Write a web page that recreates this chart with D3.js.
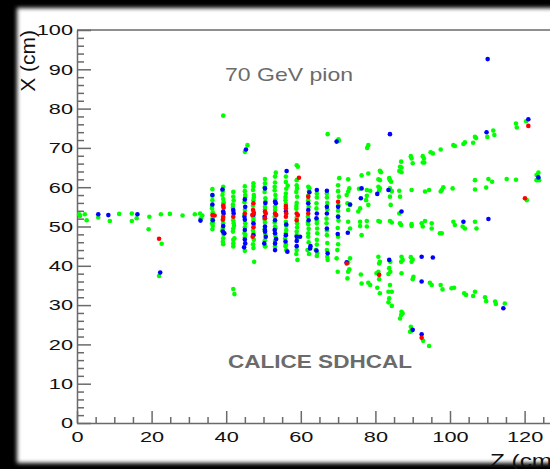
<!DOCTYPE html>
<html>
<head>
<meta charset="utf-8">
<script src="https://cdn.jsdelivr.net/npm/d3@7"></script>
<style>
  html, body { margin: 0; padding: 0; background: #000; }
  svg { display: block; }
  text { font-family: "Liberation Sans", Arial, Helvetica, sans-serif; }
</style>
</head>
<body>
<div id="chart"></div>
<script>
// hits as [Z (cm), X (cm)], one array per threshold colour
const greenHits = [
  [0.6,53.1],[0.8,52.7],[2.1,53.1],[2.6,51.6],[5.7,52.3],[8.8,51.4],[11.3,53.2],[14.7,53.3],[14.7,51.4],
  [16.0,52.1],[19.4,52.5],[19.2,49.3],[22.7,45.6],[22.0,37.4],[22.5,53.1],[24.9,53.2],[28.3,52.8],
  [31.6,53.1],[33.6,52.8],[33.2,52.1],[33.0,53.3],
  [36.3,59.5],[36.3,56.7],[36.2,54.6],[36.4,53.6],[36.3,52.0],[36.2,50.8],[36.4,50.2],
  [36.3,57.8],[36.2,55.2],[36.4,51.0],[36.3,49.3],
  [39.2,60.1],[39.0,58.0],[39.2,57.0],[39.3,56.2],[39.2,52.0],[39.1,49.6],[39.3,48.0],[39.2,47.0],[39.1,46.1],[39.2,78.2],
  [39.1,59.0],[39.3,55.8],[39.2,50.8],[39.0,49.0],[39.2,45.5],
  [41.9,57.6],[41.8,55.6],[41.9,51.6],[42.0,50.8],[41.9,49.5],[41.8,48.7],[42.2,47.0],[41.9,45.7],[41.9,46.6],[41.9,34.1],[42.2,32.8],
  [41.9,58.8],[42.0,56.6],[41.8,54.8],[41.9,53.8],[42.1,50.2],[41.9,44.9],
  [45.0,59.0],[45.1,58.0],[44.9,56.2],[45.0,54.2],[45.1,50.8],[44.9,48.3],[45.0,47.2],[45.7,70.7],[45.0,69.0],
  [45.0,60.2],[45.1,57.4],[44.9,53.0],[45.0,49.8],[45.1,47.9],[45.0,43.8],
  [47.3,61.0],[47.2,59.3],[47.4,58.0],[47.3,56.7],[47.3,51.6],[47.2,49.0],[47.4,46.6],[47.3,44.5],[47.5,41.0],
  [47.3,60.2],[47.4,57.4],[47.2,55.3],[47.3,52.2],[47.4,50.4],[47.3,48.2],[47.2,45.5],
  [50.4,61.0],[50.3,58.8],[50.5,57.2],[50.4,55.0],[50.4,51.0],[50.3,49.3],[50.4,46.5],[50.5,44.9],
  [50.4,62.1],[50.3,60.0],[50.5,56.3],[50.4,54.3],[50.3,51.8],[50.5,48.1],[50.4,45.0],
  [53.1,62.7],[53.3,63.7],[53.0,60.1],[53.2,58.0],[53.1,55.0],[53.0,52.5],[53.1,50.0],[53.2,47.6],[53.1,45.0],
  [53.1,61.2],[53.0,59.2],[53.2,56.9],[53.1,54.2],[53.0,51.0],[53.2,49.5],[53.1,46.4],
  [56.0,62.7],[56.5,60.4],[56.0,58.4],[55.9,56.7],[56.0,51.2],[56.1,49.1],[55.8,47.0],[56.0,45.5],[56.1,44.0],
  [56.0,61.3],[56.1,59.6],[55.9,57.5],[56.0,55.8],[56.1,50.2],[56.0,48.3],[55.9,45.0],
  [58.9,65.6],[59.2,65.2],[58.9,61.8],[58.8,58.8],[59.0,57.6],[58.9,56.0],[58.8,54.5],[59.0,50.8],[58.9,48.7],
  [59.0,46.6],[58.9,44.0],[58.8,43.0],[59.1,41.5],
  [58.9,60.5],[59.0,59.7],[58.8,55.2],[58.9,52.2],[59.0,49.8],[58.9,47.8],
  [62.0,60.1],[62.3,59.7],[62.2,58.9],[62.0,56.7],[61.9,52.5],[62.0,50.5],[62.1,49.4],[62.0,47.4],[61.8,44.0],[62.2,43.0],
  [62.0,57.8],[62.1,55.0],[61.9,51.0],[62.0,48.3],[62.1,46.0],
  [64.3,58.4],[64.2,55.9],[64.3,50.8],[64.4,49.5],[64.3,46.6],[64.0,44.0],[64.4,43.3],[64.3,42.5],
  [64.3,57.4],[64.2,54.6],[64.3,51.6],[64.4,48.3],[64.3,45.4],
  [67.0,58.4],[67.1,56.0],[66.9,52.0],[67.0,49.0],[67.0,44.0],[67.1,42.3],[67.2,41.5],[67.2,73.5],
  [67.0,57.4],[67.1,54.4],[66.9,50.8],[67.0,47.8],[67.1,45.8],
  [70.3,62.3],[70.0,59.0],[70.2,57.6],[70.0,54.0],[70.1,51.5],[70.0,47.4],[69.8,44.0],[69.6,41.9],[69.9,38.5],[70.1,72.2],[70.2,71.8],
  [70.0,60.5],[70.1,55.4],[70.0,52.6],[69.9,49.6],[70.0,45.5],
  [72.7,62.0],[78.1,70.7],[77.8,70.0],
  [111.6,74.4],[111.9,73.3],[110.0,72.8],[106.7,72.8],[107.0,72.5],[104.0,71.4],[103.6,71.0],[106.2,71.3],[100.9,70.7],[101.3,70.5],
  [97.5,69.6],[94.8,68.9],[95.4,68.6],[92.7,67.9],[93.0,67.3],[92.7,66.3],[93.1,66.3],[89.5,67.9],[89.7,67.3],[90.0,66.1],
  [86.9,66.5],[86.6,65.2],[87.0,65.0],[86.4,64.1],[87.0,63.8],[81.2,64.2],[81.5,63.8],[78.1,63.5],[76.3,63.0],
  [80.8,62.0],[81.2,61.8],[83.7,62.3],[83.9,61.8],[84.2,61.4],
  [75.6,59.6],[77.7,59.3],[78.6,59.1],[77.7,57.8],[77.5,56.7],[78.1,55.5],[75.9,54.6],[75.4,53.8],
  [80.8,60.1],[81.2,59.7],[81.0,59.1],[83.9,59.7],[84.4,59.0],[86.4,59.1],[86.6,57.6],[83.9,57.6],[84.1,55.5],[86.4,53.3],
  [89.7,59.3],[93.3,58.9],[94.4,59.3],[97.8,59.3],[98.2,60.0],[97.5,58.9],[100.7,59.7],[106.7,59.4],[109.7,59.9],
  [106.7,61.8],[110.3,62.1],[111.3,61.4],[115.2,62.1],[117.7,61.9],[123.7,63.7],[123.2,63.1],[123.2,61.8],[123.9,61.8],[120.6,56.7],
  [72.7,51.2],[73.2,49.5],[75.9,51.2],[77.7,51.4],[77.7,50.0],[80.8,51.4],[81.2,51.2],[83.9,51.4],[84.4,51.0],[86.6,50.8],
  [86.9,50.4],[89.7,50.6],[89.7,50.1],[92.4,50.8],[92.7,50.0],[93.3,51.4],[95.1,50.8],[95.1,49.5],[97.3,48.3],[97.8,48.3],
  [100.9,51.2],[101.3,50.4],[103.4,50.0],[104.0,49.5],[106.7,51.2],[107.1,49.5],
  [72.7,54.2],[72.5,55.9],[73.2,55.5],[72.7,58.9],[73.0,59.7],[72.3,58.0],[75.9,50.1],[76.3,47.8],
  [72.7,40.8],[73.2,41.9],[73.0,39.1],[72.7,38.5],[72.5,36.8],[76.1,37.8],[76.3,35.5],[78.1,35.7],[78.6,35.1],
  [80.8,42.3],[81.2,41.0],[81.0,40.6],[80.8,38.5],[80.3,38.1],[81.0,36.6],[80.5,34.4],[81.2,33.0],
  [84.0,41.0],[83.7,39.4],[84.0,38.5],[83.5,37.9],[83.9,35.1],[83.5,33.4],[84.4,33.4],[83.7,31.7],[83.5,30.7],[84.4,29.8],
  [87.0,42.3],[87.3,41.5],[86.9,41.0],[87.0,38.1],[87.0,28.3],[86.9,27.5],[86.6,26.6],[87.3,27.9],
  [89.5,42.2],[90.0,41.6],[89.7,41.0],[90.2,37.2],[90.0,36.6],[89.5,24.5],[89.7,23.5],[89.3,23.2],
  [92.8,20.9],[94.4,19.6],
  [94.6,35.7],[95.1,35.1],[97.5,35.1],[98.0,34.0],[100.4,34.3],[101.1,34.4],[103.8,33.0],[104.3,32.6],[106.7,33.4],
  [106.2,32.3],[109.4,32.0],[109.7,31.0],[112.1,30.9],[112.3,30.3],[114.7,30.4],
  [117.7,76.2],[117.9,75.2],[120.4,76.8]
];

const blueHits = [
  [5.7,53.1],[8.4,52.9],[16.2,53.1],[22.3,38.3],[33.1,51.5],
  [36.3,58.0],[36.3,55.6],[36.4,51.6],
  [39.0,59.4],[39.2,53.8],[39.3,53.3],[39.2,50.1],[39.1,48.7],[39.5,48.3],
  [41.9,54.2],[42.0,53.3],
  [45.0,56.9],[45.1,55.0],[44.9,52.5],[45.0,51.7],[45.0,49.1],[45.0,46.7],[45.1,45.7],[44.8,44.7],[45.3,69.6],
  [47.3,53.0],[47.3,50.8],[47.3,47.8],
  [50.4,59.7],[50.5,56.0],[50.3,52.5],[50.4,50.0],[50.4,49.1],[50.4,48.7],[50.6,47.4],[50.2,45.7],
  [53.1,56.3],[53.3,55.9],[53.1,51.6],[53.0,49.1],[53.1,48.3],[53.4,46.8],[53.1,45.7],[53.1,44.0],
  [56.2,64.1],[56.0,53.8],[56.1,50.5],[56.0,47.8],[55.9,46.2],[56.4,43.6],
  [58.9,47.4],[59.8,47.4],[58.9,46.3],[58.9,45.0],
  [62.0,55.9],[62.0,54.2],[62.1,51.6],[62.5,44.4],[62.6,45.0],[62.3,58.7],
  [64.3,59.3],[64.3,53.3],[64.2,52.1],[64.2,43.9],
  [67.0,59.1],[67.0,55.0],[67.0,53.3],[67.0,49.5],[67.2,43.2],
  [70.0,55.0],[70.0,52.5],[69.9,48.1],[69.6,71.6],
  [72.6,48.4],[73.2,55.6],[76.3,59.7],[76.1,57.2],[80.5,58.3],[83.5,59.3],[83.9,73.5],[87.0,53.8],
  [110.3,51.9],[103.6,51.2],[123.7,62.5],[72.3,40.9],[83.7,41.5],[90.0,23.7],[92.4,22.6],
  [92.4,42.3],[95.4,42.1],[92.4,36.0],[114.3,29.2],[121.0,77.3],[110.1,92.6],[109.8,74.0]
];

const redHits = [
  [22.0,46.9],[36.3,52.9],[36.9,52.8],[39.2,55.3],[39.3,54.8],[39.2,52.5],[39.1,51.7],[41.9,52.5],[45.0,53.3],
  [47.3,55.9],[47.2,54.2],[47.4,53.5],[47.0,52.9],[47.3,49.8],[47.1,47.4],[50.4,53.8],[50.6,53.3],[50.4,52.1],
  [53.1,53.3],[53.4,52.9],[56.0,55.2],[56.0,54.6],[56.1,53.3],[56.0,52.5],[59.5,62.4],[58.9,53.3],[59.2,52.9],
  [58.9,51.6],[62.0,57.6],[62.0,53.3],[70.0,56.3],[72.3,40.6],[81.0,37.7],[92.4,21.7],[120.1,57.2],[121.0,75.6]
];

const yMajorTicks = d3.range(0, 101, 10);
const yMinorTicks = d3.range(0, 101, 2).filter(v => v % 10 !== 0);
const xMajorTicks = d3.range(0, 131, 20);
const xMinorTicks = d3.range(0, 131, 5).filter(v => v % 20 !== 0);

const W = 550, H = 469;
const svg = d3.select("#chart").append("svg")
    .attr("width", W)
    .attr("height", H);

// black surround with soft-edged white pad
const defs = svg.append("defs");
defs.append("filter").attr("id", "soft")
    .attr("x", "-5%").attr("y", "-5%").attr("width", "110%").attr("height", "110%")
  .append("feGaussianBlur").attr("stdDeviation", 2.2);
svg.append("rect").attr("width", W).attr("height", H).attr("fill", "#000");
svg.append("rect")
    .attr("x", 17).attr("y", 8).attr("width", 580).attr("height", 455)
    .attr("fill", "#fff").attr("filter", "url(#soft)");

const x = d3.scaleLinear().domain([0, 130]).range([77, 77 + 130 * 3.73]);
const y = d3.scaleLinear().domain([0, 100]).range([423, 30]);

const axisColor = "#6a6a6a";

// frame top line
svg.append("line")
    .attr("x1", x(0)).attr("x2", x(130))
    .attr("y1", y(100)).attr("y2", y(100))
    .attr("stroke", axisColor).attr("stroke-width", 1.5);

// minor ticks
svg.append("g")
    .attr("transform", `translate(${x(0)},0)`)
    .call(d3.axisLeft(y).tickValues(yMinorTicks).tickSize(-7).tickSizeOuter(0).tickFormat(""))
    .call(g => g.select(".domain").remove())
    .selectAll("line").attr("stroke", axisColor).attr("stroke-width", 1.5);
svg.append("g")
    .attr("transform", `translate(0,${y(0)})`)
    .call(d3.axisBottom(x).tickValues(xMinorTicks).tickSize(-6).tickSizeOuter(0).tickFormat(""))
    .call(g => g.select(".domain").remove())
    .selectAll("line").attr("stroke", axisColor).attr("stroke-width", 1.5);

// major axes
const yAxisG = svg.append("g")
    .attr("transform", `translate(${x(0)},0)`)
    .call(d3.axisLeft(y).tickValues(yMajorTicks).tickSize(-14).tickSizeOuter(0).tickPadding(4).tickFormat(d3.format("d")));
const xAxisG = svg.append("g")
    .attr("transform", `translate(0,${y(0)})`)
    .call(d3.axisBottom(x).tickValues(xMajorTicks).tickSize(-12).tickSizeOuter(0).tickPadding(8).tickFormat(d3.format("d")));

[yAxisG, xAxisG].forEach(g => {
  g.attr("font-family", null);
  g.select(".domain").attr("stroke", axisColor).attr("stroke-width", 1.5);
  g.selectAll(".tick line").attr("stroke", axisColor).attr("stroke-width", 1.5);
  g.selectAll(".tick text")
      .attr("fill", "#111")
      .style("font-size", "15px");
});
yAxisG.selectAll(".tick text").each(function() {
  const t = d3.select(this);
  const tx = +t.attr("x");
  t.attr("x", 0).attr("transform", `translate(${tx},0) scale(1.45,1)`);
});
xAxisG.selectAll(".tick text").attr("transform", "scale(1.45,1)");

// axis titles (Z title runs off the right edge, as in the source image)
svg.append("text")
    .attr("transform", `translate(35,${y(100)}) rotate(-90)`)
    .attr("text-anchor", "end")
    .attr("fill", "#111")
    .style("font-size", "21px")
    .text("X (cm)");
svg.append("text")
    .attr("transform", "translate(490,467) scale(1.35,1)")
    .attr("fill", "#111")
    .style("font-size", "18px")
    .text("Z (cm)");

// hits
const hitLayers = [
  { data: greenHits, color: "#00ff00" },
  { data: blueHits, color: "#0000ff" },
  { data: redHits, color: "#ff0000" }
];
hitLayers.forEach(layer => {
  svg.append("g").selectAll("circle")
      .data(layer.data)
      .join("circle")
      .attr("cx", d => x(d[0]))
      .attr("cy", d => y(d[1]))
      .attr("r", 2.3)
      .attr("fill", layer.color);
});

// annotations
svg.append("text")
    .attr("x", 225).attr("y", 81)
    .attr("fill", "#6b6b6b")
    .attr("textLength", 128).attr("lengthAdjust", "spacingAndGlyphs")
    .style("font-size", "19px")
    .text("70 GeV pion");
svg.append("text")
    .attr("x", 228).attr("y", 368)
    .attr("fill", "#6b6b6b")
    .attr("textLength", 184).attr("lengthAdjust", "spacingAndGlyphs")
    .style("font-size", "18px").style("font-weight", "bold")
    .text("CALICE SDHCAL");
</script>
</body>
</html>
